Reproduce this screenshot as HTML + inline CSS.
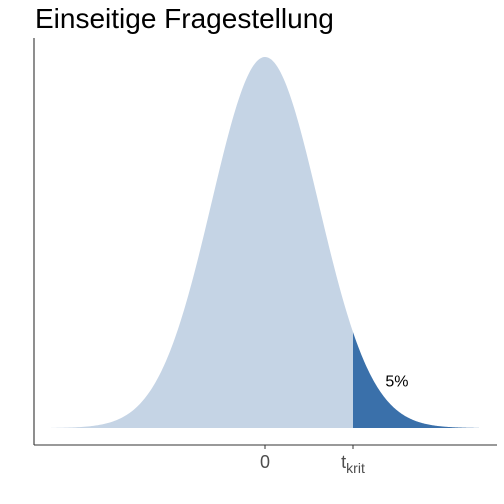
<!DOCTYPE html>
<html><head><meta charset="utf-8"><style>
body{margin:0;background:#fff}
svg{display:block;font-family:"Liberation Sans",sans-serif}
</style></head><body>
<svg width="504" height="504">
<text x="35" y="28" font-size="28" fill="#000">Einseitige Fragestellung</text>
<g id="plot"></g>
<line x1="34" y1="38" x2="34" y2="445" stroke="#333" stroke-width="1.1"/>
<line x1="34" y1="445" x2="497" y2="445" stroke="#333" stroke-width="1.1"/>
</svg>
<script>
const xTicks=[0,1.645];
const tickLabels=["0","t_krit"];
const tcrit=[1.645];
const areaLabel=["5%"];
const xRange=[-4,4];
const X=v=>265+v*53.5;
const Y=d=>428-d*930;
const dens=v=>Math.exp(-v*v/2)/Math.sqrt(2*Math.PI);
const ns="http://www.w3.org/2000/svg";
const svg=document.querySelector('svg');
const g=document.getElementById('plot');
function area(a,b,fill,name){
  let d=`M${X(a)},${Y(0)}`;
  for(let i=0;i<=200;i++){const v=a+(b-a)*i/200;d+=` L${X(v).toFixed(2)},${Y(dens(v)).toFixed(2)}`;}
  d+=` L${X(b)},${Y(0)} Z`;
  const p=document.createElementNS(ns,'path');
  p.setAttribute('d',d);p.setAttribute('fill',fill);
  
  
  g.appendChild(p);
}
area(xRange[0],tcrit[0],'#c5d4e5','density-area');
area(tcrit[0],xRange[1],'#3a70aa','rejection-area');
const lt=document.createElementNS(ns,'text');
lt.setAttribute('x',X(2.25));lt.setAttribute('y',Y(0.05)+5);
lt.setAttribute('font-size','16');lt.textContent=areaLabel[0];


g.appendChild(lt);
xTicks.forEach((t,i)=>{
  const l=document.createElementNS(ns,'line');
  l.setAttribute('x1',X(t));l.setAttribute('x2',X(t));l.setAttribute('y1',445);l.setAttribute('y2',449);
  l.setAttribute('stroke','#333');
  
  
  svg.appendChild(l);
  const tx=document.createElementNS(ns,'text');
  tx.setAttribute('x',X(t));tx.setAttribute('y',468);tx.setAttribute('text-anchor','middle');
  tx.setAttribute('font-size','18');tx.setAttribute('fill','#4d4d4d');
  const parts=tickLabels[i].split('_');
  tx.textContent=parts[0];
  if(parts[1]){
    const s=document.createElementNS(ns,'tspan');
    s.setAttribute('font-size','14');s.setAttribute('dy','5');s.textContent=parts[1];
    tx.appendChild(s);
  }
  
  
  svg.appendChild(tx);
});
</script>
</body></html>
